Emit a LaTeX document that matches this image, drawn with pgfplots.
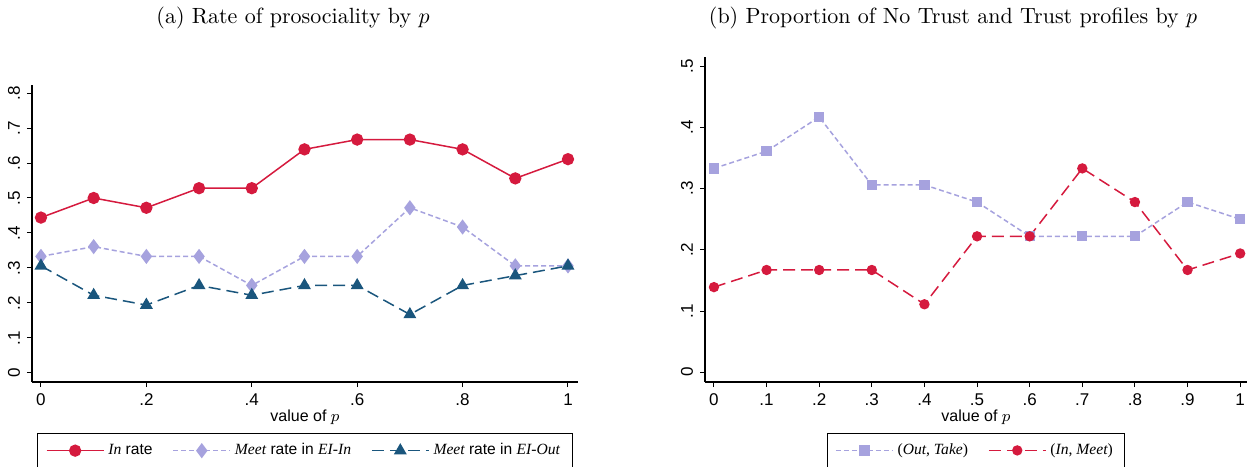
\documentclass[border=0pt]{standalone}
\usepackage{fontspec}
\setmainfont{Liberation Sans}
\newfontfamily\lmr{Latin Modern Roman}
\newfontfamily\tms{Liberation Serif}
\usepackage{pgfplots}
\pgfplotsset{compat=1.18}
\definecolor{cred}{RGB}{213,26,62}
\definecolor{clav}{RGB}{166,162,222}
\definecolor{cnavy}{RGB}{26,86,125}
\newcommand{\ti}[1]{{\tms\itshape #1}}
\pgfplotsset{
  stata/.style={
    scale only axis,
    axis x line*=bottom, axis y line*=left,
    axis line style={-, line width=0.6pt},
    tick align=outside, major tick length=2.5pt,
    tick style={line width=0.5pt, black},
    xtick={0,0.1,...,1},
    ticklabel style={font=\fontsize{8.5}{10}\selectfont},
    yticklabel style={rotate=90, anchor=south},
    xlabel={value of $p$},
    xlabel style={font=\fontsize{8}{9}\selectfont, yshift=5pt},
    legend columns=3,
    legend cell align=left,
    legend style={draw=black, line width=0.5pt, font=\fontsize{7.8}{9}\selectfont,
      /tikz/every even column/.append style={column sep=8pt},
      inner xsep=4pt, inner ysep=3pt},
    legend image code/.code={\draw[mark repeat=2,mark phase=2] plot coordinates {(0cm,0cm) (0.5cm,0cm) (1cm,0cm)};},
  }
}
\begin{document}
\begin{tikzpicture}
\useasboundingbox (0,0) rectangle (628.5pt,233pt);
\node[font=\lmr\fontsize{11}{13}\selectfont] at (146.5pt,224pt) {(a) Rate of prosociality by $p$};
\node[font=\lmr\fontsize{11}{13}\selectfont] at (476.5pt,224pt) {(b) Proportion of No Trust and Trust profiles by $p$};
\begin{axis}[stata,
  at={(16pt,42pt)}, anchor=south west, width=273pt, height=148.5pt,
  xmin=-0.017, xmax=1.019, ymin=-0.026, ymax=0.823,
  xtick={0,0.2,0.4,0.6,0.8,1}, xticklabels={0,.2,.4,.6,.8,1},
  ytick={0,0.1,0.2,0.3,0.4,0.5,0.6,0.7,0.8}, yticklabels={0,.1,.2,.3,.4,.5,.6,.7,.8},
  legend style={at={(0.5,0)}, anchor=north, yshift=-25.5pt},
]
\addplot[cred, line width=0.75pt, mark=*, mark size=2.7pt, mark options={solid}] coordinates {
(0,0.444) (0.1,0.5) (0.2,0.472) (0.3,0.528) (0.4,0.528) (0.5,0.639) (0.6,0.667) (0.7,0.667) (0.8,0.639) (0.9,0.556) (1,0.611)};
\addlegendentry{\ti{In} rate}
\addplot[clav, line width=0.75pt, dash pattern=on 2.5pt off 1.5pt, mark=diamond*, mark size=3.2pt, mark options={solid}] coordinates {
(0,0.333) (0.1,0.361) (0.2,0.333) (0.3,0.333) (0.4,0.25) (0.5,0.333) (0.6,0.333) (0.7,0.472) (0.8,0.417) (0.9,0.306) (1,0.306)};
\addlegendentry{\ti{Meet} rate in \ti{EI-In}}
\addplot[cnavy, line width=0.75pt, dash pattern=on 6pt off 3pt, mark=triangle*, mark size=3pt, mark options={solid}] coordinates {
(0,0.306) (0.1,0.222) (0.2,0.194) (0.3,0.25) (0.4,0.222) (0.5,0.25) (0.6,0.25) (0.7,0.167) (0.8,0.25) (0.9,0.278) (1,0.306)};
\addlegendentry{\ti{Meet} rate in \ti{EI-Out}}
\end{axis}
\begin{axis}[stata,
  at={(352.5pt,42pt)}, anchor=south west, width=271pt, height=162.5pt,
  xmin=-0.017, xmax=1.013, ymin=-0.016, ymax=0.515,
  xticklabels={0,.1,.2,.3,.4,.5,.6,.7,.8,.9,1},
  ytick={0,0.1,0.2,0.3,0.4,0.5}, yticklabels={0,.1,.2,.3,.4,.5},
  legend style={at={(0.5,0)}, anchor=north, yshift=-25.5pt},
]
\addplot[clav, line width=0.75pt, dash pattern=on 2.5pt off 1.5pt, mark=square*, mark size=2.2pt, mark options={solid}] coordinates {
(0,0.333) (0.1,0.361) (0.2,0.417) (0.3,0.306) (0.4,0.306) (0.5,0.278) (0.6,0.222) (0.7,0.222) (0.8,0.222) (0.9,0.278) (1,0.25)};
\addlegendentry{{\tms(\ti{Out}, \ti{Take})}}
\addplot[cred, line width=0.75pt, dash pattern=on 6pt off 3pt, mark=*, mark size=2.2pt, mark options={solid}] coordinates {
(0,0.139) (0.1,0.167) (0.2,0.167) (0.3,0.167) (0.4,0.111) (0.5,0.222) (0.6,0.222) (0.7,0.333) (0.8,0.278) (0.9,0.167) (1,0.194)};
\addlegendentry{{\tms(\ti{In}, \ti{Meet})}}
\end{axis}
\end{tikzpicture}
\end{document}
